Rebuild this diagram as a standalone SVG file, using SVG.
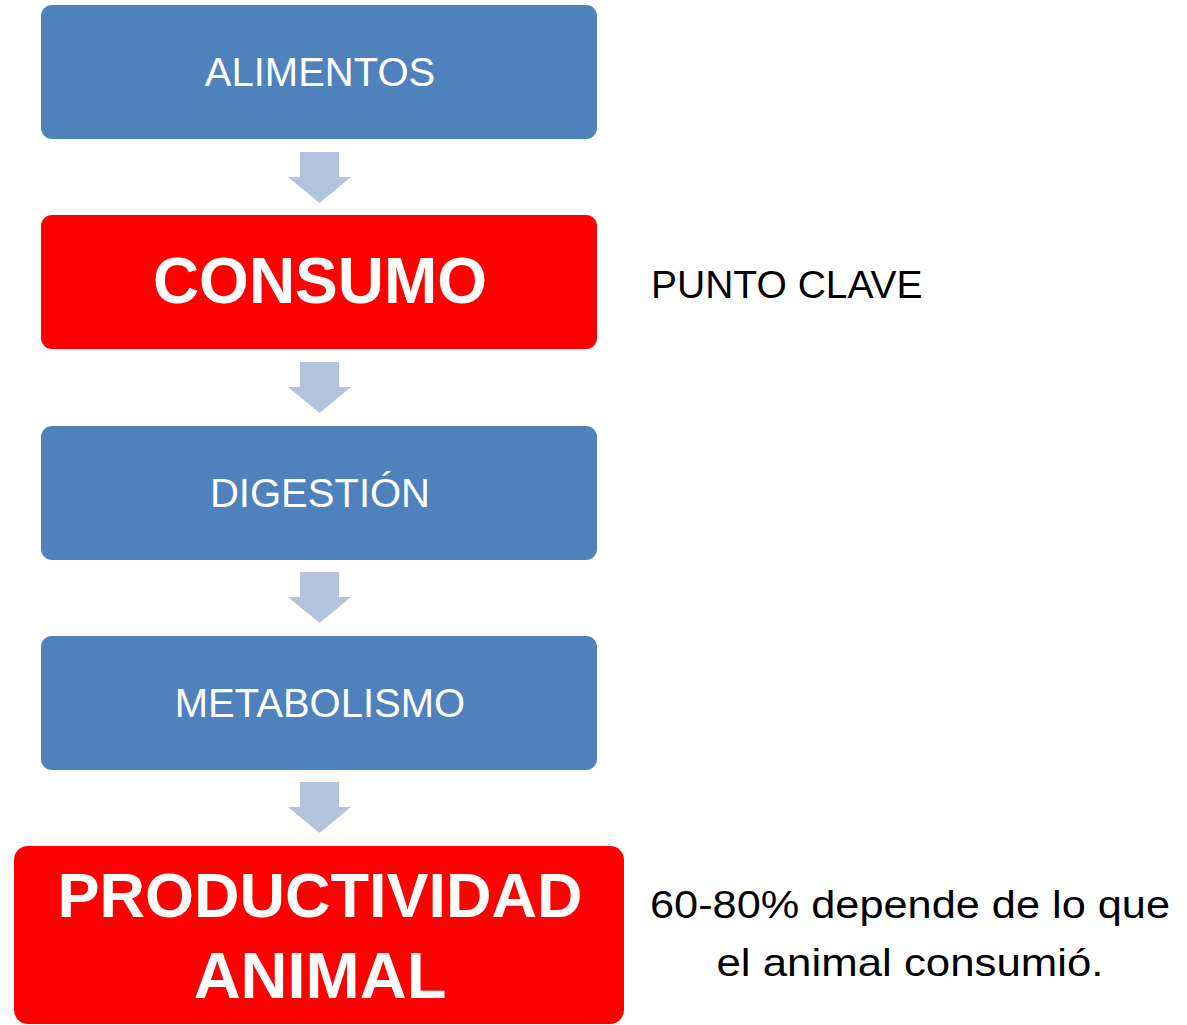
<svg xmlns="http://www.w3.org/2000/svg" width="1187" height="1025" viewBox="0 0 1187 1025">
<defs>
<style>
.blue{fill:#4F81BD}
.red{fill:#FF0000}
.lbl{font-family:"Liberation Sans",Arial,sans-serif;fill:#fff;text-anchor:middle;font-size:40px}
.big{font-family:"Liberation Sans",Arial,sans-serif;fill:#fff;text-anchor:middle;font-weight:bold}
.side{font-family:"Liberation Sans",Arial,sans-serif;fill:#000;font-size:39px}
.arrow{fill:#B3C3DE}
</style>
</defs>
<rect width="1187" height="1025" fill="#fff"/>
<g id="connectors">
<polygon class="arrow" points="300,152 339,152 339,177 351,177 319.5,203 288,177 300,177"/>
<polygon class="arrow" points="300,362 339,362 339,387 351,387 319.5,413 288,387 300,387"/>
<polygon class="arrow" points="300,572 339,572 339,597 351,597 319.5,623 288,597 300,597"/>
<polygon class="arrow" points="300,782 339,782 339,807 351,807 319.5,833 288,807 300,807"/>
</g>
<g id="alimentos">
<rect class="blue" x="41" y="5" width="556" height="134" rx="11"/>
<text class="lbl" x="320" y="86">ALIMENTOS</text>
</g>
<g id="consumo">
<rect class="red" x="41" y="215" width="556" height="134" rx="11"/>
<text class="big" x="320" y="303" font-size="64">CONSUMO</text>
</g>
<g id="digestion">
<rect class="blue" x="41" y="426" width="556" height="134" rx="11"/>
<text class="lbl" x="320" y="507">DIGESTIÓN</text>
</g>
<g id="metabolismo">
<rect class="blue" x="41" y="636" width="556" height="134" rx="11"/>
<text class="lbl" x="320" y="717">METABOLISMO</text>
</g>
<g id="productividad">
<rect class="red" x="14" y="846" width="610" height="178" rx="14"/>
<text class="big" x="320" y="917" font-size="63">PRODUCTIVIDAD</text>
<text class="big" x="320" y="998" font-size="65">ANIMAL</text>
</g>
<g id="punto-clave">
<text class="side" x="651" y="298">PUNTO CLAVE</text>
</g>
<g id="nota">
<text class="side" x="910" y="918" text-anchor="middle" font-size="46" textLength="520" lengthAdjust="spacingAndGlyphs">60-80% depende de lo que</text>
<text class="side" x="910" y="976" text-anchor="middle" font-size="46" textLength="387" lengthAdjust="spacingAndGlyphs">el animal consumió.</text>
</g>
</svg>
